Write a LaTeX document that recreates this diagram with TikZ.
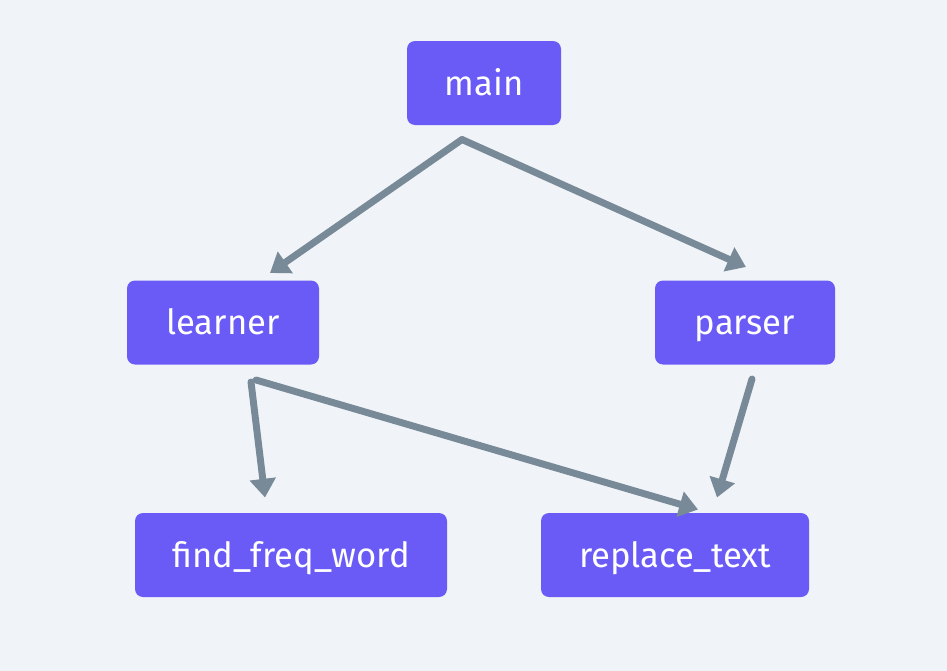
\documentclass[tikz,border=0pt]{standalone}
\usepackage{fontspec}
\setmainfont{Fira Sans}
\usetikzlibrary{arrows.meta,calc}

\definecolor{bgpale}{RGB}{240,244,248}
\definecolor{boxviolet}{RGB}{106,91,247}
\definecolor{edgeslate}{RGB}{120,137,151}

\tikzset{every picture/.style={line width=0.75pt}}
\tikzset{
  modbox/.style={draw=none, fill=boxviolet, rounded corners=6pt, text=white,
    font=\fontsize{26pt}{30pt}\selectfont, inner sep=0pt, minimum height=63pt,
    text height=22pt, text depth=4pt},
  dep/.style={draw=edgeslate, line width=5.2pt, line cap=round, line join=round,
    -{Triangle[length=14pt,width=19pt]}}
}

\begin{document}
\begin{tikzpicture}[x=0.75pt,y=0.75pt,yscale=-1,xscale=1]
%Background
\fill [bgpale] (0,0) rectangle (947,671);
\useasboundingbox (0,0) rectangle (947,671);

%Modules
\node [modbox, minimum width=115.5pt] (main) at (484,83) {main};
\node [modbox, minimum width=144pt] (learner) at (223,322.5) {learner};
\node [modbox, minimum width=135pt] (parser) at (745,322.5) {parser};
\node [modbox, minimum width=234pt] (findfreq) at (291,555) {find\_freq\_word};
\node [modbox, minimum width=201pt] (replace) at (675,555) {replace\_text};

%Arrow ends
\coordinate (mainout) at ($(main.south)+(-22,14)$);
\coordinate (learnin) at ($(learner.north)+(47,-7)$);
\coordinate (parsein) at ($(parser.north)+(1,-13)$);
\coordinate (learnoutA) at ($(learner.south)+(28,17)$);
\coordinate (learnoutB) at ($(learner.south)+(33,15)$);
\coordinate (findin) at ($(findfreq.north)+(-26,-15)$);
\coordinate (replinA) at ($(replace.north)+(23,-3)$);
\coordinate (parseout) at ($(parser.south)+(7,14)$);
\coordinate (replinB) at ($(replace.north)+(42,-15)$);

%Dependencies
\draw [dep] (mainout) -- (learnin);
\draw [dep] (mainout) -- (parsein);
\draw [dep] (learnoutA) -- (findin);
\draw [dep] (learnoutB) -- (replinA);
\draw [dep] (parseout) -- (replinB);

\end{tikzpicture}
\end{document}
